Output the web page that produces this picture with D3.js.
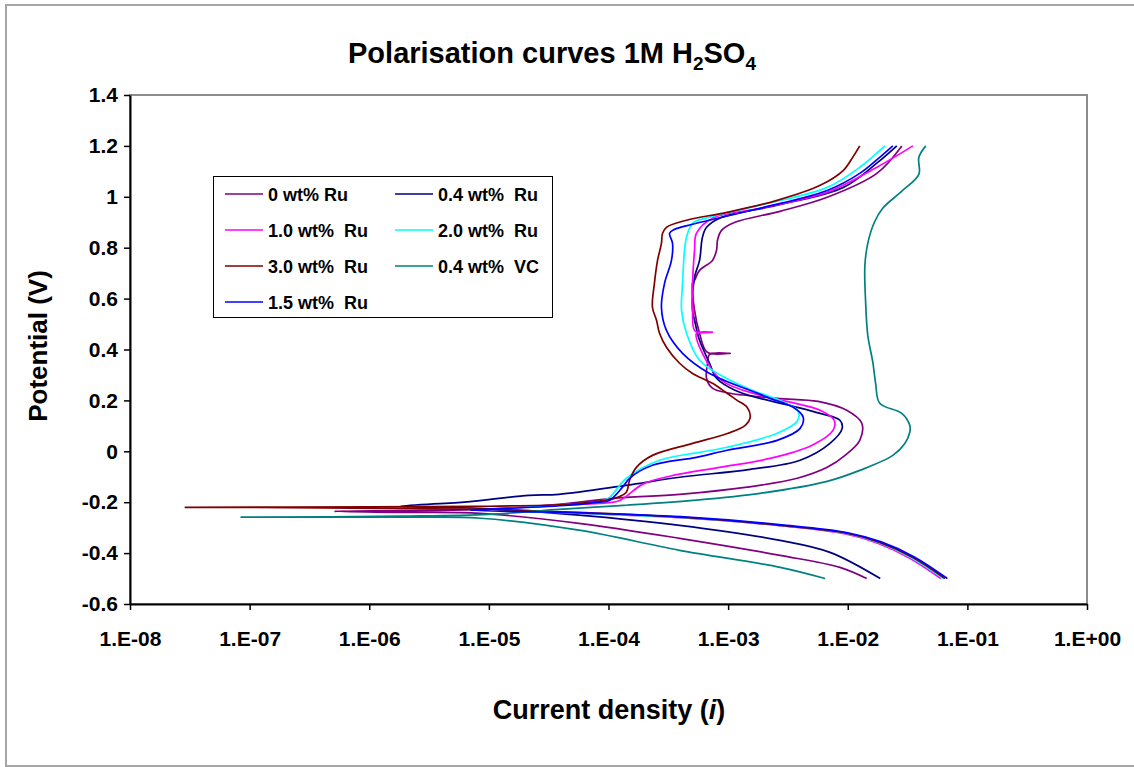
<!DOCTYPE html>
<html>
<head>
<meta charset="utf-8">
<script src="https://cdn.jsdelivr.net/npm/d3@7"></script>
<style>
  body { margin: 0; background: #fff; }
  text { font-family: "Liberation Sans", Arial, sans-serif; font-weight: bold; fill: #000; }
</style>
</head>
<body>
<svg id="chart" width="1134" height="767"></svg>
<script>
// series: [current density (A), potential (V)], scan order from -0.5 V upward
const ru0 = [
  [1.44e-2, -0.50], [8.6e-3, -0.456], [2.72e-3, -0.409], [3.93e-4, -0.342], [5.65e-5, -0.283],
  [8.5e-6, -0.244], [1.82e-6, -0.240], [5.1e-7, -0.236], [8.5e-6, -0.228], [3.85e-5, -0.208],
  [1.08e-4, -0.185], [3.93e-4, -0.169], [1.44e-3, -0.141], [3.78e-3, -0.106], [6.73e-3, -0.063],
  [9.5e-3, -0.016], [1.26e-2, 0.043], [1.31e-2, 0.110], [9.8e-3, 0.161], [5.65e-3, 0.196],
  [2.57e-3, 0.208], [1.04e-3, 0.228], [7.4e-4, 0.248], [6.6e-4, 0.287], [6.73e-4, 0.346],
  [7.0e-4, 0.381], [1.04e-3, 0.385], [6.7e-4, 0.389], [5.77e-4, 0.464], [5.24e-4, 0.554],
  [5.04e-4, 0.660], [5.24e-4, 0.672], [5.77e-4, 0.711], [7.4e-4, 0.750], [8.0e-4, 0.790],
  [8.15e-4, 0.829], [8.8e-4, 0.868], [1.14e-3, 0.900], [2.72e-3, 0.943], [6.73e-3, 0.998],
  [1.75e-2, 1.092], [2.83e-2, 1.20]
];
const ru04 = [
  [1.87e-2, -0.50], [7.1e-3, -0.397], [2.72e-3, -0.350], [3.93e-4, -0.291], [5.65e-5, -0.251],
  [8.5e-6, -0.224], [1.82e-6, -0.216], [6.2e-6, -0.200], [2.16e-5, -0.173], [3.85e-5, -0.169],
  [1.39e-4, -0.134], [3.93e-4, -0.102], [1.53e-3, -0.071], [4.0e-3, -0.035], [7.1e-3, 0.031],
  [8.98e-3, 0.090], [8.6e-3, 0.122], [5.88e-3, 0.149], [3.5e-3, 0.177], [1.85e-3, 0.208],
  [1.14e-3, 0.240], [8.0e-4, 0.287], [7.0e-4, 0.346], [5.77e-4, 0.436], [5.24e-4, 0.515],
  [5.04e-4, 0.554], [5.24e-4, 0.684], [5.77e-4, 0.750], [6.1e-4, 0.841], [6.6e-4, 0.880],
  [8.5e-4, 0.916], [2.57e-3, 0.967], [9.2e-3, 1.037], [1.75e-2, 1.132], [2.57e-2, 1.20]
];
const ru10 = [
  [6.0e-2, -0.50], [3.3e-2, -0.42], [1.8e-2, -0.362], [9.6e-3, -0.325], [2.7e-3, -0.292],
  [3.9e-4, -0.261], [5.6e-5, -0.243], [1.5e-5, -0.226], [3.85e-5, -0.212], [8.3e-5, -0.205],
  [1.24e-4, -0.193], [1.92e-4, -0.130], [3.24e-4, -0.098], [8.5e-4, -0.063], [2.24e-3, -0.028],
  [5.04e-3, 0.024], [7.55e-3, 0.083], [7.7e-3, 0.122], [5.88e-3, 0.161], [3.3e-3, 0.193],
  [1.85e-3, 0.220], [8.8e-4, 0.279], [6.1e-4, 0.385], [5.44e-4, 0.464], [7.4e-4, 0.468],
  [5.3e-4, 0.472], [5.04e-4, 0.554], [5.04e-4, 0.660], [5.24e-4, 0.790], [5.44e-4, 0.857],
  [7.4e-4, 0.916], [1.85e-3, 0.955], [6.73e-3, 1.018], [1.75e-2, 1.116], [3.5e-2, 1.20]
];
const ru20 = [
  [6.3e-2, -0.50], [3.4e-2, -0.418], [1.85e-2, -0.360], [9.8e-3, -0.323], [2.7e-3, -0.291],
  [3.9e-4, -0.260], [5.6e-5, -0.243], [1.2e-5, -0.230], [4.67e-5, -0.208], [8.3e-5, -0.198],
  [1.02e-4, -0.181], [1.41e-4, -0.106], [2.67e-4, -0.035], [5.77e-4, -0.004], [9.8e-4, 0.016],
  [2.57e-3, 0.071], [3.78e-3, 0.118], [3.85e-3, 0.157], [2.72e-3, 0.200], [1.59e-3, 0.240],
  [9.3e-4, 0.291], [5.77e-4, 0.358], [4.49e-4, 0.464], [4.08e-4, 0.554], [4.16e-4, 0.660],
  [4.32e-4, 0.790], [4.49e-4, 0.841], [5.04e-4, 0.896], [7.0e-4, 0.920], [1.85e-3, 0.967],
  [6.73e-3, 1.037], [1.26e-2, 1.116], [2.04e-2, 1.20]
];
const ru30 = [
  [6.5e-2, -0.50], [3.5e-2, -0.417], [1.85e-2, -0.358], [9.8e-3, -0.322], [2.72e-3, -0.291],
  [3.93e-4, -0.259], [5.65e-5, -0.240], [8.5e-6, -0.228], [1.24e-6, -0.224], [1.0e-7, -0.220],
  [2.9e-8, -0.220], [1.0e-6, -0.218], [8.5e-6, -0.216], [4.67e-5, -0.208], [9.2e-5, -0.193],
  [1.19e-4, -0.181], [1.41e-4, -0.161], [1.5e-4, -0.114], [1.71e-4, -0.063], [2.33e-4, -0.016],
  [5.04e-4, 0.031], [1.0e-3, 0.071], [1.39e-3, 0.102], [1.53e-3, 0.134], [1.44e-3, 0.173],
  [1.19e-3, 0.200], [9.8e-4, 0.228], [7.4e-4, 0.267], [5.04e-4, 0.306], [3.93e-4, 0.346],
  [3.05e-4, 0.409], [2.67e-4, 0.464], [2.52e-4, 0.515], [2.33e-4, 0.566], [2.42e-4, 0.660],
  [2.57e-4, 0.750], [2.77e-4, 0.817], [2.83e-4, 0.857], [3.05e-4, 0.880], [4.49e-4, 0.908],
  [9.8e-4, 0.939], [2.57e-3, 0.986], [5.88e-3, 1.045], [9.2e-3, 1.104], [1.1e-2, 1.155],
  [1.26e-2, 1.20]
];
const vc04 = [
  [6.47e-3, -0.50], [2.72e-3, -0.456], [3.93e-4, -0.389], [5.65e-5, -0.310], [8.5e-6, -0.263],
  [1.82e-6, -0.259], [8.5e-8, -0.259], [1.82e-6, -0.255], [1.0e-5, -0.248], [3.85e-5, -0.228],
  [1.41e-4, -0.212], [5.04e-4, -0.193], [1.85e-3, -0.165], [6.73e-3, -0.118], [1.26e-2, -0.075],
  [2.38e-2, -0.016], [3.0e-2, 0.031], [3.3e-2, 0.075], [3.3e-2, 0.102], [2.83e-2, 0.149],
  [1.85e-2, 0.189], [1.71e-2, 0.267], [1.62e-2, 0.350], [1.47e-2, 0.456], [1.41e-2, 0.589],
  [1.39e-2, 0.727], [1.47e-2, 0.817], [1.67e-2, 0.900], [1.96e-2, 0.955], [2.83e-2, 1.022],
  [3.93e-2, 1.088], [3.93e-2, 1.155], [4.49e-2, 1.20]
];
const ru15 = [
  [6.8e-2, -0.50], [3.6e-2, -0.415], [1.9e-2, -0.356], [1.0e-2, -0.320], [2.8e-3, -0.289],
  [4.0e-4, -0.257], [6.0e-5, -0.242], [7.0e-6, -0.232], [1.0e-5, -0.228], [4.67e-5, -0.212],
  [8.3e-5, -0.200], [1.02e-4, -0.193], [1.31e-4, -0.141], [1.5e-4, -0.106], [2.33e-4, -0.055],
  [5.44e-4, -0.024], [9.8e-4, 0.004], [2.57e-3, 0.043], [4.0e-3, 0.090], [4.24e-3, 0.134],
  [3.5e-3, 0.173], [2.24e-3, 0.208], [1.68e-3, 0.232], [7.0e-4, 0.306], [4.16e-4, 0.385],
  [3.05e-4, 0.475], [2.77e-4, 0.566], [2.94e-4, 0.660], [3.36e-4, 0.750], [3.43e-4, 0.817],
  [3.24e-4, 0.857], [3.56e-4, 0.872], [5.04e-4, 0.892], [1.85e-3, 0.955], [6.73e-3, 1.025],
  [1.26e-2, 1.092], [1.85e-2, 1.155], [2.38e-2, 1.20]
];

const seriesNames = ["0 wt% Ru", "0.4 wt%  Ru", "1.0 wt%  Ru", "2.0 wt%  Ru", "3.0 wt%  Ru", "0.4 wt%  VC", "1.5 wt%  Ru"];
const seriesData = [ru0, ru04, ru10, ru20, ru30, vc04, ru15];
const seriesColors = ["#800080", "#000080", "#ff00ff", "#00ffff", "#800000", "#008080", "#0000ff"];

const xTickValues = [1e-8, 1e-7, 1e-6, 1e-5, 1e-4, 1e-3, 1e-2, 1e-1, 1];
const xTickLabels = ["1.E-08", "1.E-07", "1.E-06", "1.E-05", "1.E-04", "1.E-03", "1.E-02", "1.E-01", "1.E+00"];
const yTickValues = [-0.6, -0.4, -0.2, 0, 0.2, 0.4, 0.6, 0.8, 1, 1.2, 1.4];
const yTickLabels = ["-0.6", "-0.4", "-0.2", "0", "0.2", "0.4", "0.6", "0.8", "1", "1.2", "1.4"];

const svg = d3.select("#chart");
const plot = { left: 130, right: 1087, top: 95, bottom: 604 };

const x = d3.scaleLog().domain([1e-8, 1]).range([plot.left, plot.right]);
const y = d3.scaleLinear().domain([-0.6, 1.4]).range([plot.bottom, plot.top]);

// outer chart frame
svg.append("rect")
  .attr("x", 6).attr("y", 5).attr("width", 1160).attr("height", 761)
  .attr("fill", "#fff").attr("stroke", "#a6a6a6").attr("stroke-width", 2);

// plot area frame
svg.append("rect")
  .attr("x", plot.left).attr("y", plot.top)
  .attr("width", plot.right - plot.left).attr("height", plot.bottom - plot.top)
  .attr("fill", "none").attr("stroke", "#8c8c8c").attr("stroke-width", 2);

// title with subscripts
const title = svg.append("text")
  .attr("x", 552).attr("y", 63)
  .attr("text-anchor", "middle")
  .style("font-size", "29px");
title.append("tspan").text("Polarisation curves 1M H");
title.append("tspan").attr("dy", 7).style("font-size", "19px").text("2");
title.append("tspan").attr("dy", -7).text("SO");
title.append("tspan").attr("dy", 7).style("font-size", "19px").text("4");

// lines
const line = d3.line()
  .x(d => x(d[0]))
  .y(d => y(d[1]))
  .curve(d3.curveCatmullRom.alpha(0.5));

const gLines = svg.append("g");
gLines.selectAll("path")
  .data(seriesData)
  .join("path")
  .attr("d", line)
  .attr("fill", "none")
  .attr("stroke", (d, i) => seriesColors[i])
  .attr("stroke-width", 1.7)
  .attr("stroke-linejoin", "round");

// axes
const yAxis = d3.axisLeft(y)
  .tickValues(yTickValues)
  .tickFormat((d, i) => yTickLabels[i])
  .tickSize(6).tickSizeOuter(0).tickPadding(6);
const gy = svg.append("g")
  .attr("transform", `translate(${plot.left},0)`)
  .call(yAxis);

const xAxis = d3.axisBottom(x)
  .tickValues(xTickValues)
  .tickFormat((d, i) => xTickLabels[i])
  .tickSize(6).tickSizeOuter(0).tickPadding(21);
const gx = svg.append("g")
  .attr("transform", `translate(0,${plot.bottom})`)
  .call(xAxis);

[gx, gy].forEach(g => {
  g.select(".domain").attr("stroke", "#000").attr("stroke-width", 2);
  g.selectAll(".tick line").attr("stroke", "#000").attr("stroke-width", 1.5);
  g.selectAll(".tick text")
    .attr("fill", "#000")
    .style("font-family", "'Liberation Sans', Arial, sans-serif")
    .style("font-weight", "bold")
    .style("font-size", "21px");
});

// axis titles
const xTitle = svg.append("text")
  .attr("x", 609).attr("y", 719)
  .attr("text-anchor", "middle")
  .style("font-size", "27px");
xTitle.append("tspan").text("Current density (");
xTitle.append("tspan").style("font-style", "italic").text("i");
xTitle.append("tspan").text(")");

svg.append("text")
  .attr("transform", "translate(47,346) rotate(-90)")
  .attr("text-anchor", "middle")
  .style("font-size", "26px")
  .text("Potential (V)");

// legend
const legend = svg.append("g");
legend.append("rect")
  .attr("x", 213.5).attr("y", 176.5).attr("width", 339).attr("height", 141)
  .attr("fill", "#fff").attr("stroke", "#000").attr("stroke-width", 1);

const items = legend.selectAll("g.item")
  .data(seriesNames)
  .join("g")
  .attr("class", "item")
  .attr("transform", (d, i) => `translate(${225 + (i % 2) * 170},${194 + Math.floor(i / 2) * 36})`);
items.append("line")
  .attr("x1", 0).attr("x2", 38)
  .attr("stroke", (d, i) => seriesColors[i])
  .attr("stroke-width", 1.7);
items.append("text")
  .attr("x", 43).attr("y", 7)
  .style("font-size", "18px")
  .style("white-space", "pre")
  .attr("xml:space", "preserve")
  .text(d => d);
</script>
</body>
</html>
